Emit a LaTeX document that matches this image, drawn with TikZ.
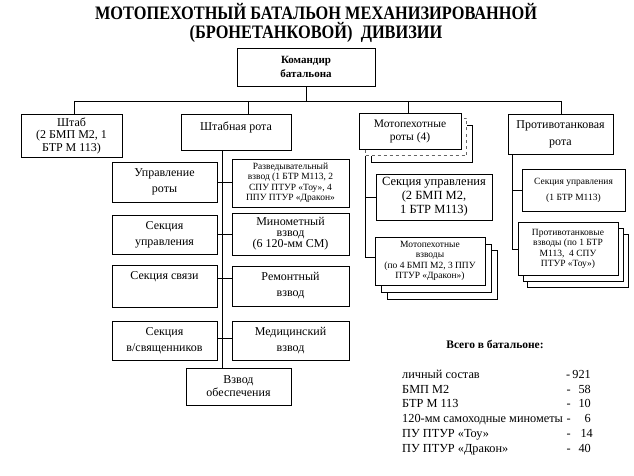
\documentclass[tikz,border=0pt]{standalone}
\usepackage{fontspec}
\setmainfont{Liberation Serif}[BoldFont={Liberation Serif Bold},ItalicFont={Liberation Serif Italic}]
\usetikzlibrary{positioning}
\tikzset{
  box/.style={draw,line width=0.9pt,fill=white,inner sep=0pt,align=center,font=\fontsize{12}{16}\selectfont},
  sbox/.style={box,font=\fontsize{9.5}{10.5}\selectfont},
  sz/.style 2 args={minimum width=#1pt,minimum height=#2pt},
  link/.style={line width=0.8pt},
  row/.style={anchor=base west,inner sep=0pt,font=\fontsize{12.3}{14}\selectfont},
  num/.style={anchor=base east,inner sep=0pt,font=\fontsize{12.3}{14}\selectfont}
}

\begin{document}
\begin{tikzpicture}[x=1pt,y=-1pt]
  \useasboundingbox (0,0) rectangle (634,476);
  \node[inner sep=0pt,align=center,font=\bfseries\fontsize{19}{19}\selectfont] (title) at (316,23)
    {\scalebox{0.86}[1]{МОТОПЕХОТНЫЙ БАТАЛЬОН МЕХАНИЗИРОВАННОЙ}\\\scalebox{0.86}[1]{(БРОНЕТАНКОВОЙ)\ \ ДИВИЗИИ}};
  % top level
  \node[box,sz={138}{38},font=\bfseries\fontsize{11}{14}\selectfont] (cmd) at (306,67){Командир\\батальона};
  \node[box,sz={101}{43},font=\fontsize{12}{12.5}\selectfont] (shtab) at (71.5,135.5){Штаб\\(2 БМП М2, 1\\БТР М 113)};
  \node[box,sz={110}{36}] (shr) at (236,132){Штабная рота\\[-4pt]\mbox{}};
  \node[box,sz={101}{37},xshift=12pt,yshift=-13pt] (mpr3) at (410,131){};
  \node[box,sz={101}{37},dashed,draw=black!60,xshift=6pt,yshift=-6pt] (mpr2) at (410,131){};
  \node[box,sz={102}{36},font=\fontsize{11.5}{13}\selectfont] (mpr) at (410,131){Мотопехотные\\роты (4)};
  \node[box,sz={105}{40},font=\fontsize{12}{17}\selectfont] (ptr) at (560.5,134){Противотанковая\\рота};
  \coordinate (b1) at (74,101);
  \coordinate (b2) at (248,101);
  \coordinate (b3) at (408,101);
  \coordinate (b4) at (561,101);
  \draw[link] (cmd.south) -- (cmd.south |- b1);
  \draw[link] (b1) -- (b4);
  \draw[link] (b1) -- (b1 |- shtab.north);
  \draw[link] (b2) -- (b2 |- shr.north);
  \draw[link] (b3) -- (b3 |- mpr.north);
  \draw[link] (b4) -- (b4 |- ptr.north);
  % staff company
  \node[box,sz={105}{40}] (upr) at (164.5,182){Управление\\роты};
  \node[sbox,sz={117}{48}] (razv) at (290.5,183){Разведывательный\\взвод (1 БТР М113, 2\\СПУ ПТУР «Тоу», 4\\ППУ ПТУР «Дракон»};
  \node[box,sz={105}{39}] (sekupr) at (164.5,234.5){Секция\\управления};
  \node[box,sz={117}{42},font=\fontsize{12}{11}\selectfont] (minv) at (290.5,234){Минометный\\взвод\\(6 120-мм СМ)};
  \node[box,sz={105}{42}] (svyaz) at (164.5,286){Секция связи\\[4pt]\mbox{}};
  \node[box,sz={117}{40}] (remv) at (290.5,286){Ремонтный\\взвод};
  \node[box,sz={105}{39}] (svyash) at (164.5,340.5){Секция\\в/священников};
  \node[box,sz={117}{39}] (medv) at (290.5,340.5){Медицинский\\взвод};
  \node[box,sz={105}{37},font=\fontsize{12}{13}\selectfont] (vzo) at (238.5,386.5){Взвод\\обеспечения};
  \draw[link] ([xshift=-14pt]shr.south) -- ([xshift=-16.5pt]vzo.north);
  \draw[link] (upr.east) -- (razv.west |- upr.east);
  \draw[link] (sekupr.east) -- (minv.west |- sekupr.east);
  \draw[link] ([yshift=8pt]svyaz.east) -- ([yshift=8pt]svyaz.east -| remv.west);
  \draw[link] ([yshift=2.5pt]svyash.east) -- ([yshift=2.5pt]svyash.east -| medv.west);
  % motor rifle companies
  \node[box,sz={116}{46},font=\fontsize{12.5}{14}\selectfont] (msu) at (434,197){Секция управления\\(2 БМП М2,\\1 БТР М113)};
  \node[sbox,sz={110}{49},xshift=12pt,yshift=-14pt] (mpv3) at (430,261){};
  \node[sbox,sz={110}{48},xshift=6pt,yshift=-7pt] (mpv2) at (430,261){};
  \node[sbox,sz={110}{48}] (mpv) at (430,261){Мотопехотные\\взводы\\(по 4 БМП М2, 3 ППУ\\ПТУР «Дракон»)};
  \draw[link] (mpr2.south west) |- ([yshift=4pt]mpv.west);
  \draw[link] (mpr2.south west |- msu.west) -- (msu.west);
  % antitank company
  \node[sbox,sz={103}{42},font=\fontsize{9.5}{16}\selectfont] (ptsu) at (573.5,190){Секция управления\\(1 БТР М113)};
  \node[sbox,sz={101}{53},xshift=10pt,yshift=-12pt] (ptv3) at (568,249){};
  \node[sbox,sz={100}{53},xshift=5pt,yshift=-6pt] (ptv2) at (568,249){};
  \node[sbox,sz={100}{53}] (ptv) at (568,249){Противотанковые\\взводы (по 1 БТР\\М113,\ \ 4 СПУ\\ПТУР «Тоу»)};
  \draw[link] ([xshift=5pt]ptr.south west) |- (ptv.west);
  \draw[link] ([xshift=5pt]ptr.south west |- ptsu.west) -- (ptsu.west);
  % totals
  \node[font=\bfseries\fontsize{11.5}{14}\selectfont] (total) at (495,344){Всего в батальоне:};
  \node[row] (r1) at (402,378.5){личный состав};
  \node[row] (r2) at (402,393){БМП М2};
  \node[row] (r3) at (402,407.5){БТР М 113};
  \node[row] (r4) at (402,422.5){120-мм самоходные минометы};
  \node[row] (r5) at (402,437){ПУ ПТУР «Тоу»};
  \node[row] (r6) at (402,452){ПУ ПТУР «Дракон»};
  \node[num] (v1) at (591,378.5){-\,921};
  \node[num] (v2) at (591,393){-\makebox[20pt][r]{58}};
  \node[num] (v3) at (591,407.5){-\makebox[20pt][r]{10}};
  \node[num] (v4) at (591,422.5){-\makebox[20pt][r]{6}};
  \node[num] (v5) at (593,437){-\makebox[22pt][r]{14}};
  \node[num] (v6) at (591,452){-\makebox[20pt][r]{40}};
\end{tikzpicture}
\end{document}
